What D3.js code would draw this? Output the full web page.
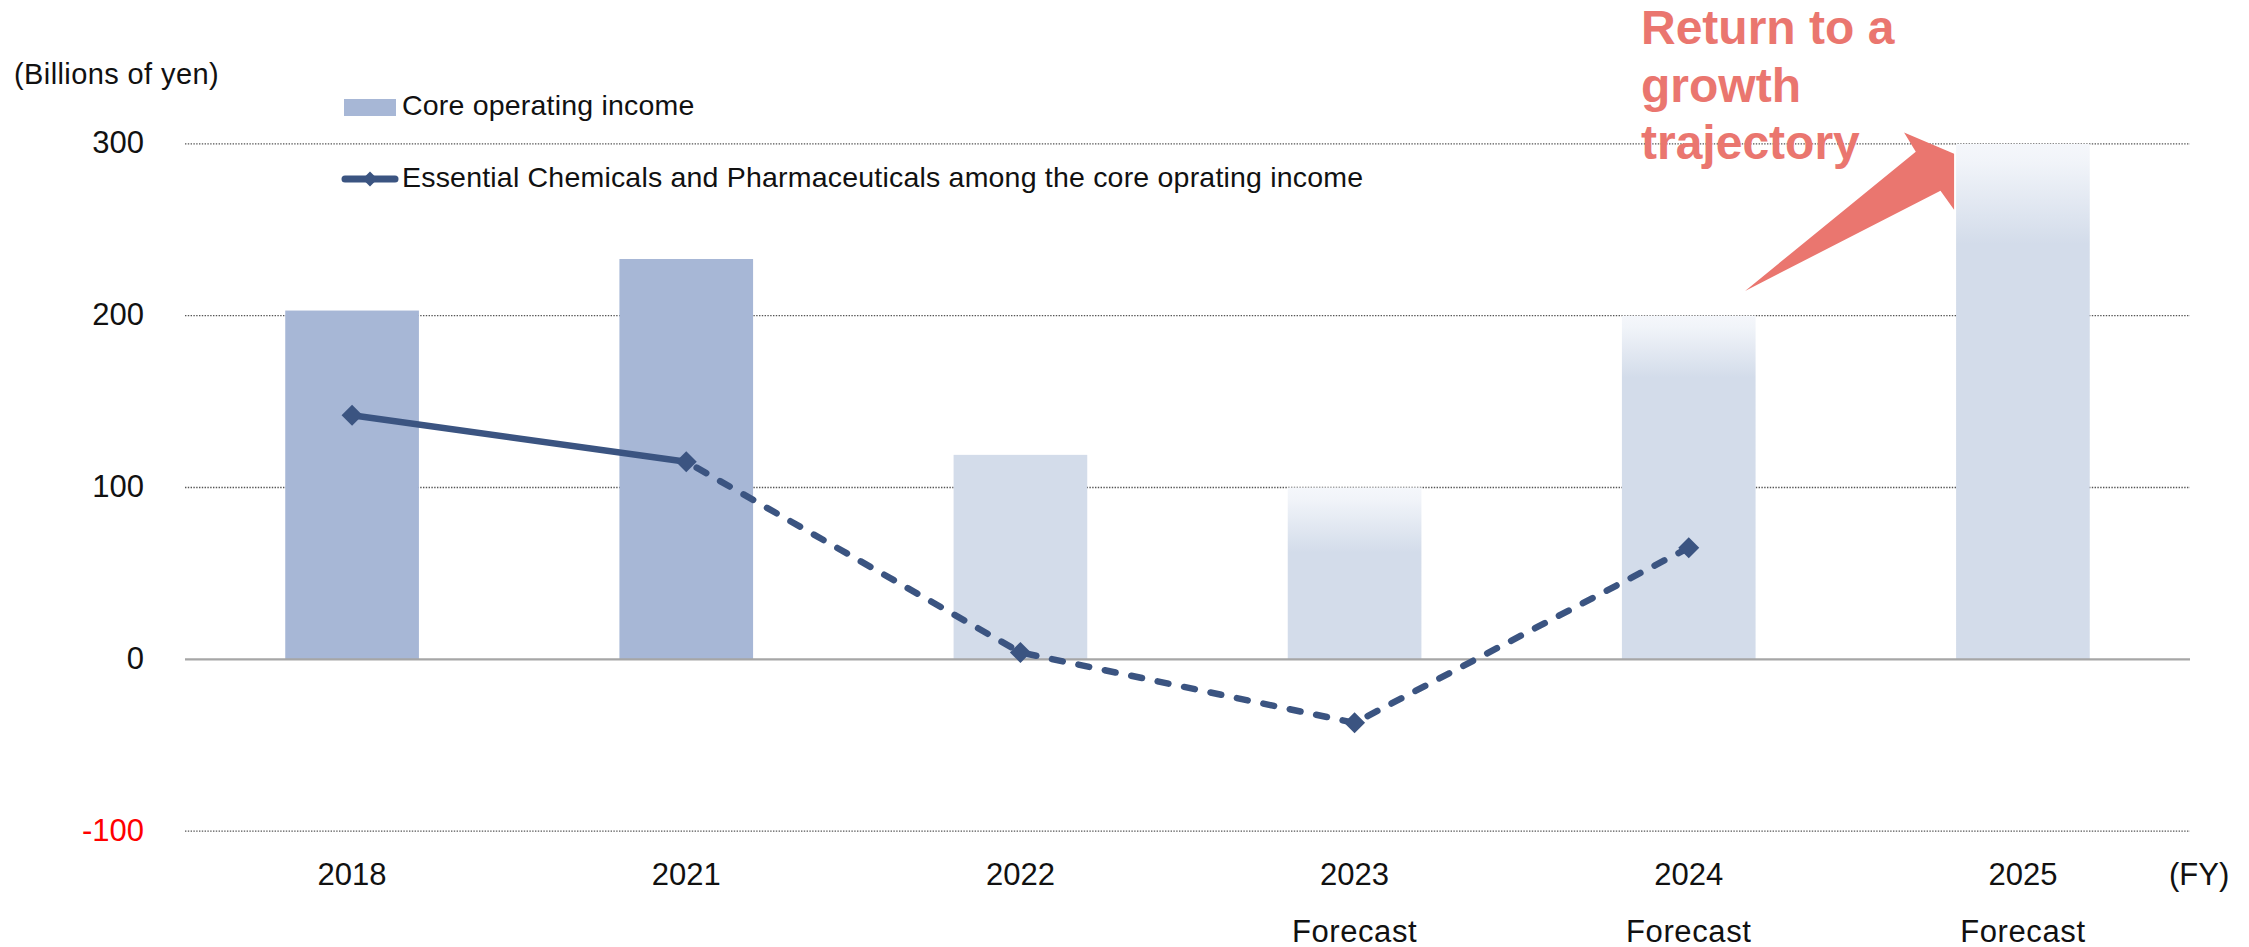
<!DOCTYPE html>
<html>
<head>
<meta charset="utf-8">
<script src="https://cdn.jsdelivr.net/npm/d3@7"></script>
<style>
  html, body { margin: 0; padding: 0; background: #ffffff; }
  svg { display: block; }
  text { font-family: "Liberation Sans", Arial, sans-serif; fill: #111111; }
</style>
</head>
<body>
<svg id="chart" width="2249" height="947"></svg>
<script>
// Fiscal years and their notes
const categories = ["2018", "2021", "2022", "2023", "2024", "2025"];
const periodNotes = ["", "", "", "Forecast", "Forecast", "Forecast"];

// Core operating income (billions of yen)
const coreOperatingIncome = [203, 233, 119, 100, 200, 300];

// Essential Chemicals and Pharmaceuticals segment, within core operating income
const essentialChemPharma = [142, 115, 4, -37, 65, null];

// Value axis ticks
const yTicks = [-100, 0, 100, 200, 300];

// ---- layout ----
const W = 2249, H = 947;
const plotLeft = 185, plotRight = 2190;
const yTop = 143.9, yBottom = 831.1;

const svg = d3.select("#chart");

const x = d3.scaleBand()
  .domain(categories)
  .range([plotLeft, plotRight])
  .paddingInner(0.6)
  .paddingOuter(0.3);

const y = d3.scaleLinear()
  .domain([-100, 300])
  .range([yBottom, yTop]);

const bw = x.bandwidth();
const cx = c => x(c) + bw / 2;

// bar fills: results in deeper blue, later years lighter, forecasts fading in from the top
const barStyle = {
  "2018": { fill: "#A7B7D6" },
  "2021": { fill: "#A7B7D6" },
  "2022": { fill: "#D3DCEA" },
  "2023": { fade: 65 },
  "2024": { fade: 62 },
  "2025": { fade: 100 }
};

const defs = svg.append("defs");
categories.forEach((c, i) => {
  const st = barStyle[c];
  if (!st.fade) return;
  const top = y(coreOperatingIncome[i]);
  const g = defs.append("linearGradient")
    .attr("id", "fade-" + c)
    .attr("gradientUnits", "userSpaceOnUse")
    .attr("x1", 0).attr("x2", 0)
    .attr("y1", top).attr("y2", top + st.fade);
  g.append("stop").attr("offset", 0).attr("stop-color", "#F5F7FB");
  g.append("stop").attr("offset", 0.18).attr("stop-color", "#F1F4F9");
  g.append("stop").attr("offset", 1).attr("stop-color", "#D3DCEA");
});

// ---- dotted gridlines ----
svg.append("g")
  .selectAll("line")
  .data(yTicks.filter(t => t !== 0))
  .join("line")
  .attr("x1", plotLeft).attr("x2", plotRight)
  .attr("y1", d => y(d)).attr("y2", d => y(d))
  .attr("stroke", "#555555")
  .attr("stroke-width", 1.3)
  .attr("stroke-dasharray", "1.4,1.4");

// ---- tick labels ----
const yAxis = svg.append("g")
  .attr("transform", "translate(144,0)")
  .call(d3.axisLeft(y).tickValues(yTicks).tickSize(0).tickPadding(0).tickFormat(d => String(d)));
yAxis.select(".domain").remove();
yAxis.selectAll("text")
  .attr("dy", 9)
  .style("font-family", "'Liberation Sans', Arial, sans-serif")
  .style("font-size", "31px")
  .style("fill", d => d < 0 ? "#FF0000" : "#111111");

// ---- annotation arrow (drawn under the bars) ----
const tipX = x("2025");
const arrowPts = [
  [tipX - 211, y(214.4)],
  [tipX - 40.3, y(295.5)],
  [tipX - 52, y(306.7)],
  [tipX - 2, y(294.2)],
  [tipX - 2, y(261.6)],
  [tipX - 15.6, y(272.8)]
];
svg.append("polygon")
  .attr("points", arrowPts.map(p => p.join(",")).join(" "))
  .attr("fill", "#EA766F");

// ---- bars ----
svg.append("g")
  .selectAll("rect")
  .data(categories.map((c, i) => ({ c, v: coreOperatingIncome[i] })))
  .join("rect")
  .attr("x", d => x(d.c))
  .attr("width", bw)
  .attr("y", d => y(d.v))
  .attr("height", d => y(0) - y(d.v))
  .attr("fill", d => barStyle[d.c].fade ? `url(#fade-${d.c})` : barStyle[d.c].fill);

// ---- zero line ----
svg.append("line")
  .attr("x1", plotLeft).attr("x2", plotRight)
  .attr("y1", y(0)).attr("y2", y(0))
  .attr("stroke", "#A6A6A6")
  .attr("stroke-width", 2.2);

// ---- segment line: solid for results, dashed toward forecasts ----
const pts = categories.map((c, i) => ({ c, v: essentialChemPharma[i] })).filter(d => d.v !== null);
const line = d3.line().x(d => cx(d.c)).y(d => y(d.v));
const lineColor = "#3B5481";

svg.append("path")
  .attr("d", line(pts.slice(0, 2)))
  .attr("fill", "none")
  .attr("stroke", lineColor)
  .attr("stroke-width", 6.5);

svg.append("path")
  .attr("d", line(pts.slice(1)))
  .attr("fill", "none")
  .attr("stroke", lineColor)
  .attr("stroke-width", 6.5)
  .attr("stroke-linecap", "round")
  .attr("stroke-dasharray", "11,16")
  .attr("stroke-dashoffset", -12);

const diamond = r => `M0,${-r}L${r},0L0,${r}L${-r},0Z`;
svg.append("g")
  .selectAll("path")
  .data(pts)
  .join("path")
  .attr("d", diamond(10.5))
  .attr("transform", d => `translate(${cx(d.c)},${y(d.v)})`)
  .attr("fill", lineColor);

// ---- category labels ----
const xl = svg.append("g");
xl.selectAll("text.year")
  .data(categories)
  .join("text")
  .attr("class", "year")
  .attr("x", d => cx(d))
  .attr("y", 884.5)
  .attr("text-anchor", "middle")
  .style("font-size", "31px")
  .text(d => d);
xl.selectAll("text.note")
  .data(categories.map((c, i) => ({ c, n: periodNotes[i] })).filter(d => d.n))
  .join("text")
  .attr("class", "note")
  .attr("x", d => cx(d.c))
  .attr("y", 941.5)
  .attr("text-anchor", "middle")
  .style("font-size", "31px")
  .style("letter-spacing", "0.6px")
  .text(d => d.n);

svg.append("text")
  .attr("x", 2169).attr("y", 884.5)
  .style("font-size", "31px")
  .text("(FY)");

// ---- unit label ----
svg.append("text")
  .attr("x", 14).attr("y", 84)
  .style("font-size", "29px")
  .style("letter-spacing", "0.4px")
  .text("(Billions of yen)");

// ---- legend ----
const lg = svg.append("g");
lg.append("rect")
  .attr("x", 344).attr("y", 99).attr("width", 52).attr("height", 17)
  .attr("fill", "#A7B7D6");
lg.append("text")
  .attr("x", 402).attr("y", 114.5)
  .style("font-size", "28.5px")
  .style("letter-spacing", "0.2px")
  .text("Core operating income");
lg.append("line")
  .attr("x1", 345).attr("x2", 395)
  .attr("y1", 179).attr("y2", 179)
  .attr("stroke", lineColor)
  .attr("stroke-width", 7)
  .attr("stroke-linecap", "round");
lg.append("path")
  .attr("d", diamond(7.5))
  .attr("transform", "translate(370,179)")
  .attr("fill", lineColor);
lg.append("text")
  .attr("x", 402).attr("y", 187)
  .style("font-size", "28.5px")
  .style("letter-spacing", "0.2px")
  .text("Essential Chemicals and Pharmaceuticals among the core oprating income");

// ---- callout ----
const callout = svg.append("g")
  .style("font-size", "48px")
  .style("font-weight", "bold");
["Return to a", "growth", "trajectory"].forEach((t, i) => {
  callout.append("text")
    .attr("x", 1641)
    .attr("y", 44 + i * 57.5)
    .style("fill", "#EA766F")
    .text(t);
});
</script>
</body>
</html>
